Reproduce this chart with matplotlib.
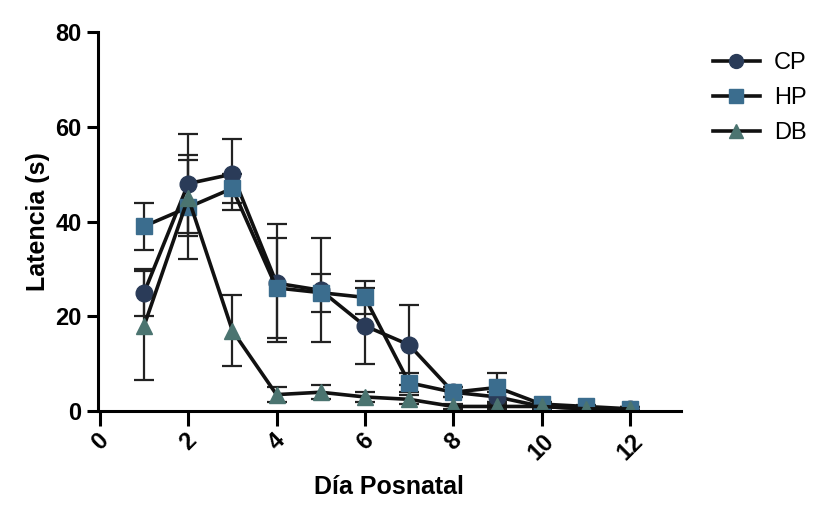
import numpy as np
import matplotlib
matplotlib.use("Agg")
import matplotlib.pyplot as plt
from matplotlib.lines import Line2D

plt.rcParams['font.family'] = ['Liberation Sans', 'DejaVu Sans']

dias = [1, 2, 3, 4, 5, 6, 7, 8, 9, 10, 11, 12]

cp_mean = [25, 48, 50, 27, 25.5, 18, 14, 4, 3, 1, 0.5, 0.5]
cp_err = [5, 10.5, 7.5, 12.5, 11, 8, 8.5, 1, 1, 0.5, 0.3, 0.3]

hp_mean = [39, 43, 47, 26, 25, 24, 6, 4, 5, 1.5, 1, 0.5]
hp_err = [5, 11, 3, 10.5, 4, 3.5, 2, 1, 3, 0.5, 0.3, 0.3]

db_mean = [18, 45, 17, 3.5, 4, 3, 2.5, 1, 1, 1, 0.5, 0.5]
db_err = [11.5, 8, 7.5, 1.5, 1.5, 1, 1, 0.5, 0.5, 0.5, 0.3, 0.3]

series = [
    ("CP", cp_mean, cp_err, "o", "#2a3b58"),
    ("HP", hp_mean, hp_err, "s", "#3b6d8e"),
    ("DB", db_mean, db_err, "^", "#4b7470"),
]

fig = plt.figure(figsize=(8.21, 5.14), dpi=100)
ax = fig.add_axes([0.119, 0.2, 0.71, 0.738])

handles = []
for name, m, e, mk, col in series:
    ax.errorbar(dias, m, yerr=e, color="#111111", ecolor="#222222",
                elinewidth=1.6, capsize=7, capthick=1.6, lw=2.6,
                marker=mk, markersize=12, markerfacecolor=col,
                markeredgecolor=col, zorder=3)
    handles.append(Line2D([], [], color="#111111", lw=2.6, marker=mk,
                          markersize=10, markerfacecolor=col,
                          markeredgecolor=col, label=name))

ax.set_xlim(-0.05, 13.15)
ax.set_ylim(0, 80)
ax.set_xticks([0, 2, 4, 6, 8, 10, 12])
ax.set_yticks([0, 20, 40, 60, 80])
ax.spines['top'].set_visible(False)
ax.spines['right'].set_visible(False)
ax.spines['left'].set_linewidth(2.2)
ax.spines['bottom'].set_linewidth(2.2)
ax.spines['bottom'].set_zorder(4)
ax.tick_params(axis='x', direction='out', length=11, width=2.2,
               labelsize=17, pad=2)
ax.tick_params(axis='y', direction='out', length=8, width=2.2,
               labelsize=17)
for lbl in ax.get_xticklabels():
    lbl.set_rotation(45)
    lbl.set_fontweight('bold')
for lbl in ax.get_yticklabels():
    lbl.set_fontweight('bold')
ax.set_ylabel("Latencia (s)", fontsize=18, fontweight='bold', labelpad=4)
ax.set_xlabel("Día Posnatal", fontsize=18, fontweight='bold', labelpad=8)

fig.legend(handles=handles, loc='upper left', bbox_to_anchor=(0.842, 0.94),
           frameon=False, fontsize=17, handlelength=2.0,
           handletextpad=0.6, labelspacing=0.55)

fig.savefig("out.png", dpi=100)
